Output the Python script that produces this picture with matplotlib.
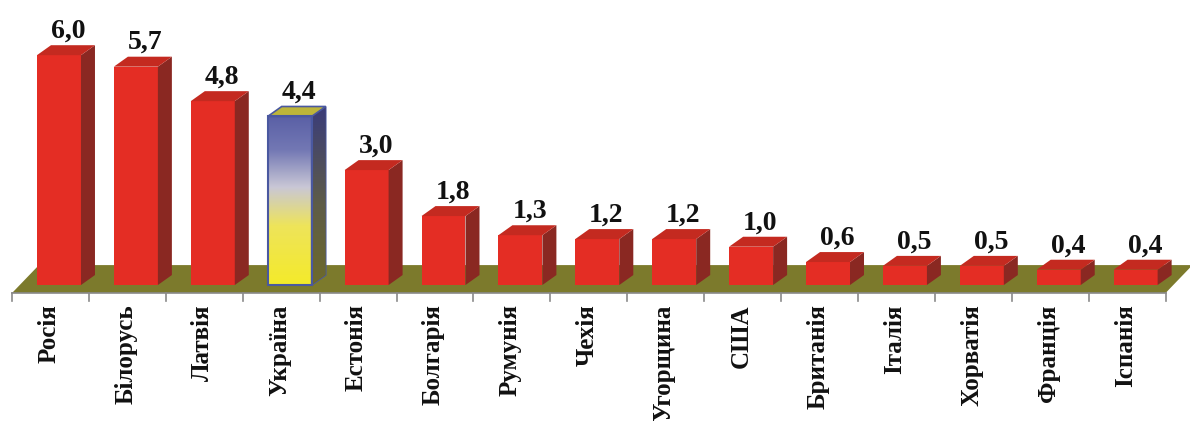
import numpy as np
import matplotlib
matplotlib.use('Agg')
import matplotlib.pyplot as plt
from matplotlib.patches import Polygon
from matplotlib.colors import LinearSegmentedColormap

countries = ['Росія', 'Білорусь', 'Латвія', 'Україна', 'Естонія', 'Болгарія',
             'Румунія', 'Чехія', 'Угорщина', 'США', 'Британія', 'Італія',
             'Хорватія', 'Франція', 'Іспанія']
values = [6.0, 5.7, 4.8, 4.4, 3.0, 1.8, 1.3, 1.2, 1.2, 1.0, 0.6, 0.5, 0.5, 0.4, 0.4]
labels = ['6,0', '5,7', '4,8', '4,4', '3,0', '1,8', '1,3', '1,2', '1,2', '1,0',
          '0,6', '0,5', '0,5', '0,4', '0,4']
highlight = 'Україна'

plt.rcParams['font.family'] = ['Liberation Serif', 'DejaVu Serif']

fig = plt.figure(figsize=(11.9, 4.21), dpi=100)
ax = fig.add_axes([0, 0, 1, 1])
ax.set_axis_off()

# 3d look: depth offset in data units
dx, dy = 0.182, 0.26
w = 0.572
x = np.arange(len(countries))
n = len(countries)

# floor
fl, fr = -0.611, n - 0.611
fy0, fy1, fdx = -0.21, 0.52, 0.35
ax.add_patch(Polygon([(fl, fy0), (fr, fy0), (fr + fdx, fy1), (fl + fdx, fy1)],
                     closed=True, facecolor='#7c7a2c', edgecolor='none', zorder=1))
ax.plot([fl, fr], [fy0, fy0], color='#8a8a8a', lw=1.2, zorder=1.5)
for b in np.arange(n + 1) + fl:
    ax.plot([b, b], [fy0, fy0 - 0.2], color='#8a8a8a', lw=1.2, zorder=1.5)

red_front, red_side, red_top = '#e42d24', '#8a2822', '#c42a20'
front_cmap = LinearSegmentedColormap.from_list(
    'ua', [(0, '#f4ea2a'), (0.35, '#eee45a'), (0.58, '#c9c7d6'), (0.8, '#7378b4'), (1, '#5a60a6')])
side_cmap = LinearSegmentedColormap.from_list(
    'uas', [(0, '#6e6a2a'), (0.45, '#5e5c48'), (1, '#3a3c7a')])

bars = ax.bar(x, values, width=w, color=red_front, edgecolor='none', zorder=3)

for i, (bar, v, c) in enumerate(zip(bars, values, countries)):
    x0 = bar.get_x()
    x1 = x0 + w
    side = Polygon([(x1, 0), (x1 + dx, dy), (x1 + dx, v + dy), (x1, v)], closed=True, zorder=3)
    top = Polygon([(x0, v), (x1, v), (x1 + dx, v + dy), (x0 + dx, v + dy)], closed=True, zorder=3)
    if c == highlight:
        bar.set_facecolor('none')
        bar.set_edgecolor('#4a58a0')
        bar.set_linewidth(1.5)
        bar.set_zorder(4)
        grad = np.linspace(0, 1, 256).reshape(-1, 1)
        im = ax.imshow(grad, cmap=front_cmap, origin='lower', aspect='auto',
                       extent=[x0, x1, 0, v], zorder=3)
        im.set_clip_path(bar)
        side.set_facecolor('none')
        side.set_edgecolor('#4a58a0')
        side.set_linewidth(1.2)
        ax.add_patch(side)
        im2 = ax.imshow(grad, cmap=side_cmap, origin='lower', aspect='auto',
                        extent=[x1, x1 + dx, 0, v + dy], zorder=3)
        im2.set_clip_path(side)
        top.set_facecolor('#bdb53a')
        top.set_edgecolor('#4a58a0')
        top.set_linewidth(1.2)
        ax.add_patch(top)
    else:
        side.set_facecolor(red_side)
        side.set_edgecolor('none')
        top.set_facecolor(red_top)
        top.set_edgecolor('none')
        ax.add_patch(side)
        ax.add_patch(top)
    ax.text(x[i] + 0.12, v + 0.3, labels[i], ha='center', va='bottom',
            fontsize=20, fontweight='bold', color='#111111', zorder=5)
    ax.text(x[i] - 0.13, -0.5, c, rotation=90, ha='center', va='top',
            fontsize=18, fontweight='bold', color='#111111', zorder=5)

ax.set_xlim(-0.767, 14.707)
ax.set_ylim(-3.55, 7.44)

fig.savefig('out.png', dpi=100, facecolor='white')
